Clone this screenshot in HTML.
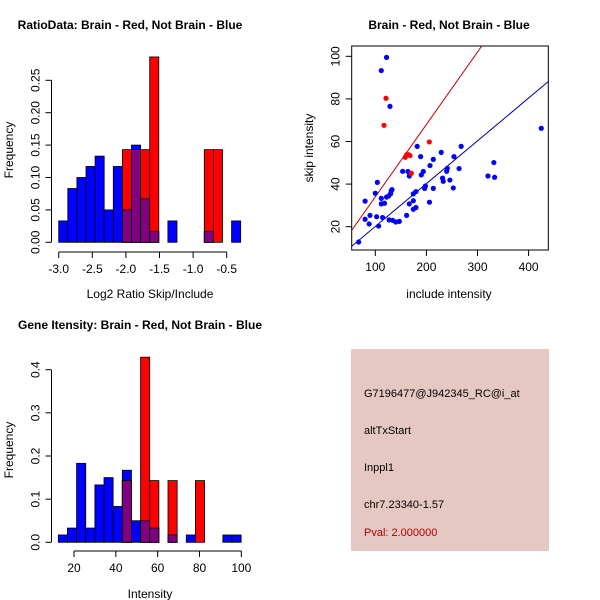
<!DOCTYPE html>
<html><head><meta charset="utf-8"><style>
body{margin:0;background:#fff}
svg{display:block;font-family:"Liberation Sans",sans-serif}
</style></head><body>
<svg id="c" width="600" height="600" xmlns="http://www.w3.org/2000/svg">
<rect x="351" y="349" width="198" height="202" fill="#e6c8c2"/>
<g font-size="11" fill="#000">
<text x="364" y="397">G7196477@J942345_RC@i_at</text>
<text x="364" y="434">altTxStart</text>
<text x="364" y="471">Inppl1</text>
<text x="364" y="508">chr7.23340-1.57</text>
<text x="364" y="536" fill="#b00000">Pval: 2.000000</text>
</g>
</svg>
<script>
// Histogram 1 data (ratio)
const h1Start=-3.0, h1Width=0.1354;
const h1Blue=[0.033,0.083,0.10,0.117,0.133,0.05,0.117,0.05,0.15,0.067,0.017,0,0.033,0,0,0,0.017,0,0,0.033];
const h1Red=[0,0,0,0,0,0,0,0.143,0.143,0.143,0.286,0,0,0,0,0,0.143,0.143,0,0];
const h1XTicks=[-3.0,-2.5,-2.0,-1.5,-1.0,-0.5];
const h1YTicks=[0,0.05,0.10,0.15,0.20,0.25];
// Histogram 2 data (intensity)
const h2Start=12.5, h2Width=4.37;
const h2Blue=[0.017,0.033,0.183,0.033,0.133,0.15,0.083,0.167,0.05,0.05,0.033,0,0.017,0,0.017,0,0,0,0.017,0.017];
const h2Red=[0,0,0,0,0,0,0,0.143,0,0.429,0.143,0,0.143,0,0,0.143,0,0,0,0];
const h2XTicks=[20,40,60,80,100];
const h2YTicks=[0,0.1,0.2,0.3,0.4];
// Scatter data
const blueX=[67.4,80,80,89.6,88,100,104,102.6,106.5,111.7,111.7,111.7,114.4,118,122,122,126,128.7,130,131,132.6,127,134,140,147,153.5,161.3,164,166.5,166.5,174.4,174.4,174.4,179.6,179.6,182,188.7,190,194,196.6,198,206,207,213.5,213.5,229,231.6,233,239.6,240.9,246,252.6,254,264,268,320.5,332,333.5,424.8];
const blueY=[12.8,32,23.5,25.3,21.3,35.7,40.8,24.7,20.3,93.3,33.3,30.7,24.3,31,99.5,33.9,34.4,76.5,35.5,36.8,37.4,23.2,23,22.2,22.5,46,25.3,45.9,43.8,30.7,32.2,28.2,35.4,36.5,29,57.7,52.9,44.3,45.9,38,39.1,31.5,48.7,51.6,38,54.9,42.8,41.3,46,47.4,41.9,38.2,52.9,47.3,57.7,43.8,50.1,43.2,66.2];
const redX=[120.9,117,158.7,161.3,165.2,168,170.5,205.7];
const redY=[80.3,67.6,52.6,53.8,53.8,53.4,45.1,59.8];
const slopes=[0.34,0.201];
const sXTicks=[100,200,300,400];
const sYTicks=[20,40,60,80,100];

const svg=document.getElementById('c');
const NS='http://www.w3.org/2000/svg';
function mk(tag,at,parent){const e=document.createElementNS(NS,tag);for(const k in at)e.setAttribute(k,at[k]);(parent||svg).appendChild(e);return e;}
function txt(x,y,s,opts,parent){const t=mk('text',Object.assign({x:x,y:y,'font-size':12,'text-anchor':'middle'},opts||{}),parent);t.textContent=s;return t;}

function hist(cfg){
  const g=mk('g',{});
  
  
  const X=v=>cfg.x0px+(v-cfg.x0)*cfg.xs, Y=v=>cfg.y0px-v*cfg.ys;
  const n=cfg.blue.length;
  for(let i=0;i<n;i++){
    const xa=X(cfg.start+i*cfg.w), xb=X(cfg.start+(i+1)*cfg.w);
    const b=cfg.blue[i], r=cfg.red[i];
    if(b>0){const e=mk('rect',{x:xa,y:Y(b),width:xb-xa,height:Y(0)-Y(b),fill:'#0000ff',stroke:'#000','stroke-width':0.8},g);
      
      }
    if(r>0){const e=mk('rect',{x:xa,y:Y(r),width:xb-xa,height:Y(0)-Y(r),fill:'#ff0000',stroke:'#000','stroke-width':0.8},g);
      
      }
    const m=Math.min(b,r);
    if(m>0){const e=mk('rect',{x:xa,y:Y(m),width:xb-xa,height:Y(0)-Y(m),fill:'#800080',stroke:'#000','stroke-width':0.8},g);
      
      }
  }
  const ax=cfg.xticks, axY=cfg.axisY;
  mk('line',{x1:X(ax[0]),x2:X(ax[ax.length-1]),y1:axY,y2:axY,stroke:'#000'},g);
  ax.forEach(v=>{mk('line',{x1:X(v),x2:X(v),y1:axY,y2:axY+6,stroke:'#000'},g);
    const t=txt(X(v),axY+21,cfg.fmtx(v),{},g);
    
    });
  const yt=cfg.yticks, axX=cfg.axisX;
  mk('line',{x1:axX,x2:axX,y1:Y(yt[0]),y2:Y(yt[yt.length-1]),stroke:'#000'},g);
  yt.forEach(v=>{mk('line',{x1:axX-6,x2:axX,y1:Y(v),y2:Y(v),stroke:'#000'},g);
    const t=txt(axX-12,Y(v),cfg.fmty(v),{transform:`rotate(-90 ${axX-12} ${Y(v)})`},g);
    
    });
  const xl=txt(cfg.xlx,cfg.xly,cfg.xlabel,{},g);
  
  
  const yl=txt(13,cfg.yly,'Frequency',{transform:`rotate(-90 13 ${cfg.yly})`},g);
  
  
  const ti=txt(cfg.tx,cfg.ty,cfg.title,{'font-weight':'bold','font-size':12},g);
  
  
}
hist({name:'ratio-histogram',x0:-3,x0px:58.7,xs:67.2,y0px:242.3,ys:648,start:h1Start,w:h1Width,blue:h1Blue,red:h1Red,
  xticks:h1XTicks,yticks:h1YTicks,axisY:252,axisX:51.5,fmtx:v=>v.toFixed(1),fmty:v=>v.toFixed(2),
  xlabel:'Log2 Ratio Skip/Include',xlx:150,xly:298,yly:150,title:'RatioData: Brain - Red, Not Brain - Blue',tx:130,ty:29});
hist({name:'intensity-histogram',x0:20,x0px:74,xs:2.0917,y0px:542.3,ys:431.5,start:h2Start,w:h2Width,blue:h2Blue,red:h2Red,
  xticks:h2XTicks,yticks:h2YTicks,axisY:551,axisX:51.5,fmtx:v=>String(v),fmty:v=>v.toFixed(1),
  xlabel:'Intensity',xlx:150,xly:598,yly:450,title:'Gene Itensity: Brain - Red, Not Brain - Blue',tx:140,ty:329});

(function(){
  const g=mk('g',{});
  
  
  const X=v=>375.3+(v-100)*0.511, Y=v=>226.7-(v-20)*2.13;
  const L=351.7,R=548.3,T=46,B=250;
  const cp=mk('clipPath',{id:'sc'},g);mk('rect',{x:L,y:T,width:R-L,height:B-T},cp);
  const xmin=53.8,xmax=438.6;
  const cols=['#c00000','#00009a'];
  slopes.forEach((k,i)=>{const l=mk('line',{x1:X(xmin),y1:Y(k*xmin),x2:X(xmax),y2:Y(k*xmax),stroke:cols[i],'stroke-width':1,'clip-path':'url(#sc)'},g);
    
    });
  blueX.forEach((x,i)=>{const c=mk('circle',{cx:X(x),cy:Y(blueY[i]),r:2.6,fill:'#0000ff'},g);
    
    });
  redX.forEach((x,i)=>{const c=mk('circle',{cx:X(x),cy:Y(redY[i]),r:2.6,fill:'#ff0000'},g);
    
    });
  mk('rect',{x:L,y:T,width:R-L,height:B-T,fill:'none',stroke:'#000'},g);
  sXTicks.forEach(v=>{mk('line',{x1:X(v),x2:X(v),y1:B,y2:B+6,stroke:'#000'},g);
    const t=txt(X(v),B+21,String(v),{},g);
    
    });
  sYTicks.forEach(v=>{mk('line',{x1:L-6,x2:L,y1:Y(v),y2:Y(v),stroke:'#000'},g);
    const t=txt(L-12,Y(v),String(v),{transform:`rotate(-90 ${L-12} ${Y(v)})`},g);
    
    });
  const xl=txt(449,298,'include intensity',{},g);
  
  
  const yl=txt(313,148,'skip intensity',{transform:'rotate(-90 313 148)'},g);
  
  
  const ti=txt(449,29,'Brain - Red, Not Brain - Blue',{'font-weight':'bold','font-size':12},g);
  
  
})();
</script>
</body></html>
